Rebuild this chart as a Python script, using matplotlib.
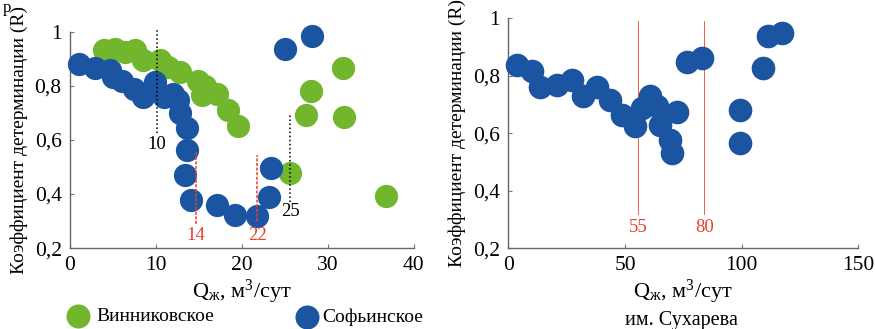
import numpy as np
import matplotlib
matplotlib.use('Agg')
import matplotlib.pyplot as plt

plt.rcParams['font.family'] = ['Liberation Serif', 'DejaVu Serif']
plt.rcParams['mathtext.fontset'] = 'custom'
plt.rcParams['mathtext.rm'] = 'Liberation Serif'
plt.rcParams['mathtext.it'] = 'Liberation Serif'

# left panel: Винниковское (green) and Софьинское (blue)
vin_q = [3.9, 5.2, 6.4, 7.6, 8.5, 10.5, 11.4, 12.8, 14.9, 15.7, 15.3, 17.1, 18.4, 19.5,
         25.6, 27.4, 28.0, 31.8, 31.9, 36.7]
vin_r = [0.932, 0.935, 0.926, 0.932, 0.895, 0.895, 0.871, 0.852, 0.82, 0.80, 0.766, 0.77, 0.71, 0.65,
         0.477, 0.692, 0.782, 0.865, 0.686, 0.394]
sof_q = [1.05, 2.9, 4.65, 5.0, 6.0, 7.4, 8.5, 9.9, 10.9, 12.0, 12.6, 12.8, 13.6, 13.6, 13.4, 14.1,
         17.1, 19.2, 21.7, 23.1, 23.4, 25.0, 28.1]
sof_r = [0.883, 0.865, 0.858, 0.834, 0.82, 0.79, 0.76, 0.815, 0.76, 0.772, 0.748, 0.70, 0.643, 0.563,
         0.47, 0.378, 0.36, 0.323, 0.317, 0.39, 0.495, 0.938, 0.984]
# right panel: им. Сухарева
suh_q = [3.6, 10.0, 13.6, 20.7, 27.1, 32.1, 37.9, 43.6, 48.6, 54.3, 57.1, 60.7, 63.6, 65.0, 69.3,
         70.0, 72.1, 76.4, 82.9, 99.3, 99.3, 109.3, 111.4, 117.1]
suh_r = [0.838, 0.815, 0.762, 0.768, 0.786, 0.728, 0.762, 0.716, 0.664, 0.623, 0.687, 0.728, 0.693,
         0.629, 0.577, 0.530, 0.675, 0.846, 0.861, 0.681, 0.565, 0.826, 0.936, 0.948]

# reference lines: (x, y0, y1, label, label_y, colour, style)
left_lines = [(10.15, 0.625, 1.01, '10', 0.585, 'black', ':'),
              (14.6, 0.29, 0.557, '14', 0.245, '#e8412c', (0, (2, 1))),
              (21.8, 0.30, 0.545, '22', 0.245, '#e8412c', (0, (2, 1))),
              (25.6, 0.37, 0.70, '25', 0.337, 'black', ':')]
right_lines = [(55.7, 0.32, 0.99, '55', 0.27), (84.0, 0.32, 0.99, '80', 0.27)]

GREEN = '#72b62e'
BLUE = '#1b55a2'
RED = '#e8412c'
yticks = [0.2, 0.4, 0.6, 0.8, 1.0]
ylabels = ['0,2', '0,4', '0,6', '0,8', '1']

fig = plt.figure(figsize=(8.75, 3.29), dpi=100)
ax1 = fig.add_axes([0.080, 0.246, 0.393, 0.657])
ax2 = fig.add_axes([0.581, 0.246, 0.400, 0.699])

ax1.scatter(vin_q, vin_r, s=280, color=GREEN, lw=0, zorder=3, clip_on=False)
ax1.scatter(sof_q, sof_r, s=280, color=BLUE, lw=0, zorder=4, clip_on=False)
for x, y0, y1, lab, ly, c, ls in left_lines:
    ax1.plot([x, x], [y0, y1], color=c, ls=ls, lw=1.1, zorder=5, clip_on=False)
    ax1.text(x, ly, lab, color=c, ha='center', va='center', fontsize=13.5, zorder=6)
ax1.set_xlim(0, 40)
ax1.set_xticks([0, 10, 20, 30, 40])

ax2.scatter(suh_q, suh_r, s=290, color=BLUE, lw=0, zorder=3, clip_on=False)
for x, y0, y1, lab, ly in right_lines:
    ax2.plot([x, x], [y0, y1], color=RED, lw=0.6, zorder=2)
    ax2.text(x, ly, lab, color=RED, ha='center', va='center', fontsize=13.5)
ax2.set_xlim(0, 150)
ax2.set_xticks([0, 50, 100, 150])

for ax in (ax1, ax2):
    ax.set_ylim(0.2, 1.0)
    ax.set_yticks(yticks)
    ax.set_yticklabels(ylabels)
    ax.tick_params(direction='in', length=3, width=0.8, color='#777777', labelsize=15.5, pad=6)
    for sp in ('top', 'right'):
        ax.spines[sp].set_visible(False)
    for sp in ('left', 'bottom'):
        ax.spines[sp].set_color('#666666')
        ax.spines[sp].set_linewidth(1.0)
    ax.set_ylabel('Коэффициент детерминации (R)', fontsize=14, labelpad=5)
    ax.set_xlabel(r'Q$_{\mathrm{ж}}$, м$^3$/сут', fontsize=16, labelpad=2)

# bottom captions
ax1.scatter([0.022], [-0.315], s=300, color=GREEN, lw=0, transform=ax1.transAxes, clip_on=False)
ax1.text(0.078, -0.318, 'Винниковское', transform=ax1.transAxes, fontsize=14, va='center')
ax1.scatter([0.689], [-0.318], s=300, color=BLUE, lw=0, transform=ax1.transAxes, clip_on=False)
ax1.text(0.735, -0.322, 'Софьинское', transform=ax1.transAxes, fontsize=14, va='center')
fig.text(0.779, 0.027, 'им. Сухарева', ha='center', va='center', fontsize=14.5)
fig.text(0.003, 1.0, 'р', fontsize=12, ha='left', va='top')

fig.savefig('out.png', dpi=100)
